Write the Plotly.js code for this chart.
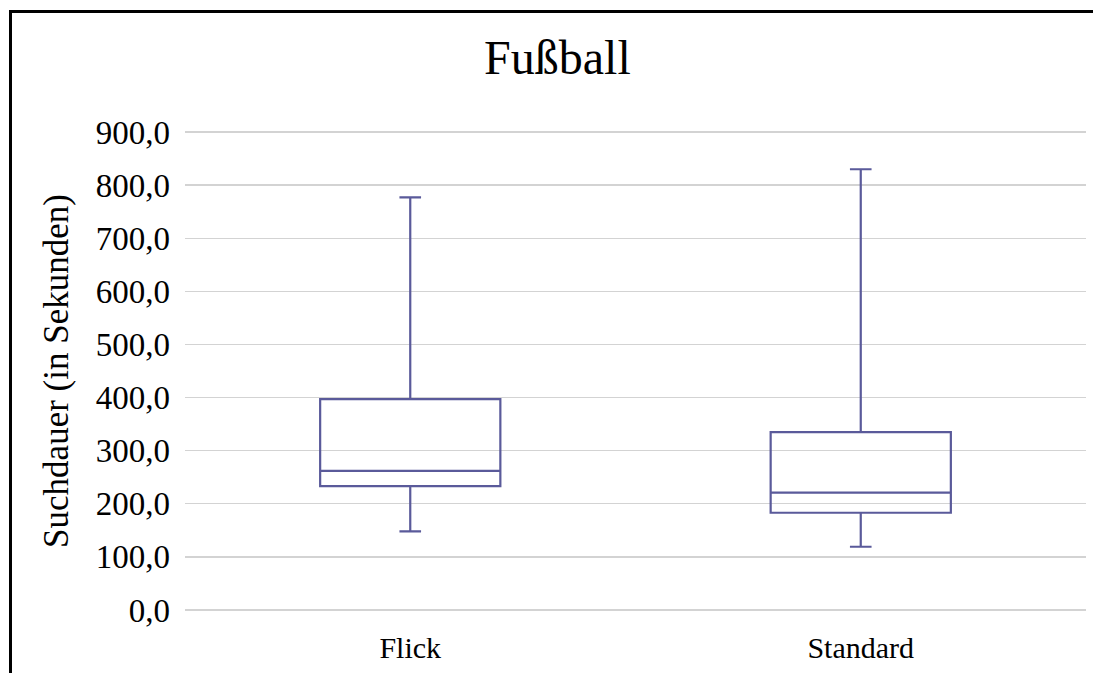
<!DOCTYPE html>
<html>
<head>
<meta charset="utf-8">
<script src="https://cdn.plot.ly/plotly-3.0.1.min.js"></script>
<style>
  html, body { margin: 0; padding: 0; background: #fff; }
  #wrap { position: relative; width: 1093px; height: 673px; }
  #chart { width: 1093px; height: 673px; }
  #frame { position: absolute; left: 9px; top: 10px; right: 0; bottom: 0;
           border-left: 3px solid #000; border-top: 3px solid #000; pointer-events: none; }
</style>
</head>
<body>
<div id="wrap">
  <div id="chart"></div>
  <div id="frame"></div>
</div>
<script>
const categories = ['Flick', 'Standard'];
const lowerWhisker = [148, 119];
const q1Values = [233, 183];
const medianValues = [262, 221];
const q3Values = [397, 335];
const upperWhisker = [777, 830];
const yTickValues = [0, 100, 200, 300, 400, 500, 600, 700, 800, 900];

const boxColor = '#5a5a9a';
const serif = 'Liberation Serif, Times New Roman, serif';

const trace = {
  type: 'box',
  x: categories,
  q1: q1Values,
  median: medianValues,
  q3: q3Values,
  lowerfence: lowerWhisker,
  upperfence: upperWhisker,
  boxpoints: false,
  width: 0.4,
  whiskerwidth: 0.12,
  line: { color: boxColor, width: 2.2 },
  fillcolor: 'rgba(255,255,255,0)',
  hoverinfo: 'skip',
  showlegend: false
};

const layout = {
  width: 1093,
  height: 673,
  paper_bgcolor: '#ffffff',
  plot_bgcolor: '#ffffff',
  separators: ',.',
  font: { family: serif, color: '#000000', size: 30 },
  margin: { l: 185, r: 7, t: 131, b: 62 },
  title: {
    text: 'Fußball',
    font: { family: serif, size: 48, color: '#000000' },
    xref: 'container', x: 0.51, xanchor: 'center',
    yref: 'container', y: 0.915, yanchor: 'middle'
  },
  xaxis: {
    type: 'category',
    range: [-0.5, 1.5],
    showgrid: false,
    zeroline: false,
    showline: false,
    ticks: '',
    tickfont: { family: serif, size: 30, color: '#000000' },
    ticklabelstandoff: 16
  },
  yaxis: {
    range: [-2, 902],
    tickvals: yTickValues,
    tickformat: '.1f',
    showgrid: true,
    gridcolor: '#d3d3d3',
    gridwidth: 1.5,
    zeroline: false,
    showline: false,
    ticks: '',
    ticklabelstandoff: 14,
    tickfont: { family: serif, size: 33, color: '#000000' },
    title: {
      text: 'Suchdauer (in Sekunden)',
      font: { family: serif, size: 35, color: '#000000' },
      standoff: 16
    },
    automargin: false
  }
};

Plotly.newPlot('chart', [trace], layout, { staticPlot: true, displayModeBar: false });
</script>
</body>
</html>
